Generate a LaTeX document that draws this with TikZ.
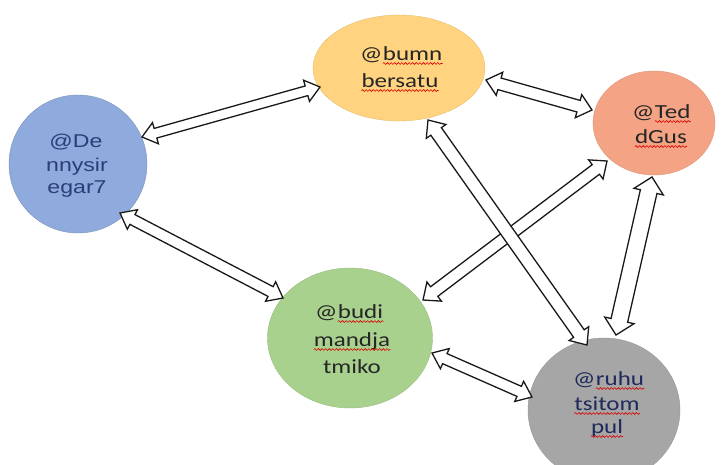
\documentclass[tikz,border=0pt]{standalone}
\usepackage{fontspec}
\usetikzlibrary{calc,shapes.geometric,decorations.pathmorphing}
\newfontfamily\calfont[FakeStretch=1.25]{Carlito}
\newfontfamily\arfont[FakeStretch=1.25]{Liberation Sans}
\definecolor{denfill}{HTML}{8FAADC}
\definecolor{dentext}{HTML}{2A3E7C}
\definecolor{bumnfill}{HTML}{FFD37F}
\definecolor{tedfill}{HTML}{F4A484}
\definecolor{budifill}{HTML}{A9D18E}
\definecolor{ruhufill}{HTML}{A6A6A6}
\definecolor{ruhutext}{HTML}{1F2A5C}
\definecolor{darktext}{HTML}{262626}
\newcommand\wordfont{\calfont\fontsize{20pt}{24pt}\selectfont}
% wavy underline under a word node
\newcommand\waveunder[1]{\draw[wavy] ([yshift=-3.5pt]#1.base west) -- ([yshift=-3.5pt]#1.base east);}
% #1 options, #2 from, #3 to, #4 head length, #5 head half width, #6 shaft half width
\newcommand\blockarrow[6][]{%
 \draw[barrow,#1] (#2) -- ($(#2)!#4!(#3)!#5!90:(#3)$) -- ($(#2)!#4!(#3)!#6!90:(#3)$)
   -- ($(#3)!#4!(#2)!#6!-90:(#2)$) -- ($(#3)!#4!(#2)!#5!-90:(#2)$) -- (#3)
   -- ($(#3)!#4!(#2)!#5!90:(#2)$) -- ($(#3)!#4!(#2)!#6!90:(#2)$)
   -- ($(#2)!#4!(#3)!#6!-90:(#3)$) -- ($(#2)!#4!(#3)!#5!-90:(#3)$) -- cycle;}
\begin{document}
\begin{tikzpicture}[x=1pt,y=-1pt,
  bub/.style={ellipse, inner sep=0pt},
  txt/.style={inner sep=0pt, anchor=base, font=\wordfont},
  dtxt/.style={inner sep=0pt, anchor=base, text=dentext, font=\arfont\fontsize{18.5pt}{23pt}\selectfont},
  wavy/.style={draw=red!85!black, line width=0.6pt, decorate,
    decoration={snake, segment length=3.6pt, amplitude=0.9pt}},
  barrow/.style={draw=black!90, line width=1.3pt, fill=white, line join=miter}]
\fill[white] (0,0) rectangle (723,464);
\useasboundingbox (0,0) rectangle (723,464);
\clip (0,0) rectangle (723,464);

% bubbles
\node[bub, fill=denfill, draw=denfill!85!black, minimum width=138pt, minimum height=138pt] (den) at (78,164) {};
\node[bub, fill=bumnfill, draw=bumnfill!90!black, minimum width=172pt, minimum height=106pt] (bumn) at (399,68) {};
\node[bub, fill=tedfill, draw=tedfill!90!black, minimum width=122pt, minimum height=104pt] (ted) at (654,123) {};
\node[bub, fill=budifill, draw=budifill!90!black, minimum width=165pt, minimum height=140pt] (budi) at (350,338) {};
\node[bub, fill=ruhufill, draw=ruhufill!90!black, minimum width=152pt, minimum height=144pt] (ruhu) at (604,410) {};

% texts
\node[dtxt] (den1) at (76,147) {@De};
\node[dtxt] (den2) at (77,171) {nnysir};
\node[dtxt] (den3) at (77,193) {egar7};

\node[txt, anchor=base west, text=darktext] (bumnAt) at (360,60) {@};
\node[txt, anchor=base west, text=darktext] (bumn1) at (bumnAt.base east) {bumn};
\node[txt, text=darktext] (bumn2) at (400,87) {bersatu};
\node[txt, anchor=base west, text=darktext] (tedAt) at (632,118) {@};
\node[txt, anchor=base west, text=darktext] (ted1) at (tedAt.base east) {Ted};
\node[txt, text=darktext] (ted2) at (661,143) {dGus};
\node[txt, anchor=base west, text=darktext] (budiAt) at (315,318) {@};
\node[txt, anchor=base west, text=darktext] (budi1) at (budiAt.base east) {budi};
\node[txt, text=darktext] (budi2) at (352,346) {mandja};
\node[txt, text=darktext] (budi3) at (352,373) {tmiko};
\node[txt, anchor=base west, text=ruhutext] (ruhuAt) at (573,385) {@};
\node[txt, anchor=base west, text=ruhutext] (ruhu1) at (ruhuAt.base east) {ruhu};
\node[txt, text=ruhutext] (ruhu2) at (607,410) {tsitom};
\node[txt, text=ruhutext] (ruhu3) at (607,433) {pul};

\waveunder{bumn1}
\waveunder{bumn2}
\waveunder{ted1}
\waveunder{ted2}
\waveunder{budi1}
\waveunder{budi2}
\waveunder{ruhu1}
\waveunder{ruhu2}
\waveunder{ruhu3}

% connector end points on the bubbles
\coordinate (a1) at ($(den)+(64,-27)$);   \coordinate (a2) at ($(bumn)+(-79,19)$);
\coordinate (b1) at ($(bumn)+(87,12)$);   \coordinate (b2) at ($(ted)+(-62,-13)$);
\coordinate (c1) at ($(den)+(42,49)$);    \coordinate (c2) at ($(budi)+(-67,-40)$);
\coordinate (d1) at ($(budi)+(73,-38)$);  \coordinate (d2) at ($(ted)+(-47,38)$);
\coordinate (e1) at ($(bumn)+(29,52)$);   \coordinate (e2) at ($(ruhu)+(-17,-65)$);
\coordinate (f1) at ($(budi)+(82,15)$);   \coordinate (f2) at ($(ruhu)+(-72,-13)$);
\coordinate (g1) at ($(ted)+(-2,54)$);    \coordinate (g2) at ($(ruhu)+(12,-75)$);

\blockarrow{a1}{a2}{14pt}{11pt}{5pt}
\blockarrow{b1}{b2}{14pt}{12pt}{6pt}
\blockarrow{c1}{c2}{14pt}{11pt}{5.5pt}
\blockarrow{d1}{d2}{14pt}{12pt}{6pt}
\blockarrow{e1}{e2}{14pt}{12pt}{6.5pt}
\blockarrow{f1}{f2}{14pt}{11pt}{5.5pt}
\blockarrow{g1}{g2}{15pt}{15pt}{8.5pt}
\end{tikzpicture}
\end{document}
